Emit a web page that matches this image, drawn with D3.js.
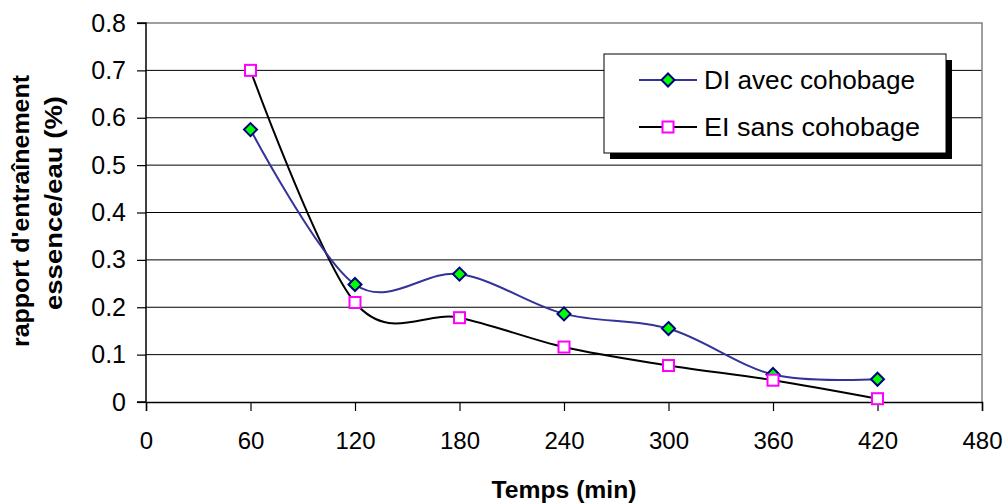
<!DOCTYPE html>
<html>
<head>
<meta charset="utf-8">
<script src="https://cdn.jsdelivr.net/npm/d3@7"></script>
<style>
html,body{margin:0;padding:0;background:#fff;}
text{font-family:"Liberation Sans",Arial,sans-serif;}
</style>
</head>
<body>
<svg id="chart" width="1008" height="504"></svg>
<script>
const times = [60, 120, 180, 240, 300, 360, 420];
const diAvec = [0.575, 0.248, 0.270, 0.186, 0.155, 0.058, 0.048];
const eiSans = [0.700, 0.210, 0.178, 0.116, 0.077, 0.046, 0.007];
const xTicks = [0, 60, 120, 180, 240, 300, 360, 420, 480];
const yTicks = [0, 0.1, 0.2, 0.3, 0.4, 0.5, 0.6, 0.7, 0.8];
const seriesNames = ["DI avec cohobage", "EI sans cohobage"];
const xTitle = "Temps (min)";
const yTitle = ["rapport d'entraînement", "essence/eau (%)"];

const svg = d3.select("#chart");
const L = 146, R = 982, T = 23, B = 402;
const x = d3.scaleLinear().domain([0, 480]).range([L, R]);
const y = d3.scaleLinear().domain([0, 0.8]).range([B, T]);

// gridlines
svg.append("g").selectAll("line").data(yTicks.filter(v => v > 0 && v < 0.8)).join("line")
  .attr("x1", L).attr("x2", R).attr("y1", d => y(d)).attr("y2", d => y(d))
  .attr("stroke", "#000").attr("stroke-width", 1);
// plot border (top/right)
svg.append("path").attr("d", `M${L},${T}H${R}V${B}`).attr("fill", "none")
  .attr("stroke", "#808080").attr("stroke-width", 1.5);

// axes
const yAxis = svg.append("g").attr("transform", `translate(${L},0)`)
  .call(d3.axisLeft(y).tickValues(yTicks).tickSize(9).tickPadding(11).tickFormat(d => d === 0 ? "0" : d3.format(".1f")(d)));
const xAxis = svg.append("g").attr("transform", `translate(0,${B})`)
  .call(d3.axisBottom(x).tickValues(xTicks).tickSize(9).tickPadding(21).tickFormat(d3.format("d")));
[yAxis, xAxis].forEach(a => {
  a.select(".domain").attr("stroke", "#000").attr("stroke-width", 1.5);
  a.selectAll(".tick line").attr("stroke", "#000").attr("stroke-width", 1.2);
  a.selectAll(".tick text").attr("font-size", 24).attr("fill", "#000")
    .attr("font-family", "'Liberation Sans', Arial, sans-serif");
});
yAxis.selectAll(".tick text").attr("font-size", 25);
yAxis.select(".domain").attr("d", `M-9,${B}H0V${T}H-9`);

// lines
const line = d3.line().x((d, i) => x(times[i])).y(d => y(d)).curve(d3.curveCatmullRom.alpha(0));
svg.append("path").datum(eiSans).attr("d", line).attr("fill", "none")
  .attr("stroke", "#000").attr("stroke-width", 2);
svg.append("path").datum(diAvec).attr("d", line).attr("fill", "none")
  .attr("stroke", "#333399").attr("stroke-width", 2);

function diamond(g, cx, cy) {
  const s = 6.5;
  g.append("path").attr("d", `M${cx},${cy - s}L${cx + s},${cy}L${cx},${cy + s}L${cx - s},${cy}Z`)
    .attr("fill", "#00ff00").attr("stroke", "#000080").attr("stroke-width", 2);
}
function square(g, cx, cy) {
  const s = 5.5;
  g.append("rect").attr("x", cx - s).attr("y", cy - s).attr("width", 2 * s).attr("height", 2 * s)
    .attr("fill", "#fff").attr("stroke", "#ff00ff").attr("stroke-width", 2);
}
const mk = svg.append("g");
diAvec.forEach((v, i) => diamond(mk, x(times[i]), y(v)));
eiSans.forEach((v, i) => square(mk, x(times[i]), y(v)));

// axis titles
svg.append("text").attr("x", (L + R) / 2).attr("y", 498).attr("text-anchor", "middle")
  .attr("font-size", 23).attr("font-weight", "bold").attr("textLength", 145).attr("lengthAdjust", "spacingAndGlyphs")
  .text(xTitle);
svg.append("text").attr("transform", "translate(29,211) rotate(-90)").attr("text-anchor", "middle")
  .attr("font-size", 24).attr("font-weight", "bold").attr("textLength", 272).attr("lengthAdjust", "spacingAndGlyphs")
  .text(yTitle[0]);
svg.append("text").attr("transform", "translate(62,203) rotate(-90)").attr("text-anchor", "middle")
  .attr("font-size", 24).attr("font-weight", "bold").attr("textLength", 214).attr("lengthAdjust", "spacingAndGlyphs")
  .text(yTitle[1]);

// legend
const lg = svg.append("g");
lg.append("rect").attr("x", 610).attr("y", 60).attr("width", 342).attr("height", 99).attr("fill", "#000");
lg.append("rect").attr("x", 604).attr("y", 54).attr("width", 342).attr("height", 99)
  .attr("fill", "#fff").attr("stroke", "#000").attr("stroke-width", 1);
const rows = [80, 127];
const legW = [211, 216];
lg.append("line").attr("x1", 639).attr("x2", 697).attr("y1", rows[0]).attr("y2", rows[0]).attr("stroke", "#333399").attr("stroke-width", 2);
diamond(lg, 668, rows[0]);
lg.append("line").attr("x1", 639).attr("x2", 697).attr("y1", rows[1]).attr("y2", rows[1]).attr("stroke", "#000").attr("stroke-width", 2);
square(lg, 668, rows[1]);
seriesNames.forEach((n, i) => {
  lg.append("text").attr("x", 704).attr("y", rows[i] + 9).attr("font-size", 26).attr("fill", "#000")
    .attr("textLength", legW[i]).attr("lengthAdjust", "spacingAndGlyphs").text(n);
});
</script>
</body>
</html>
